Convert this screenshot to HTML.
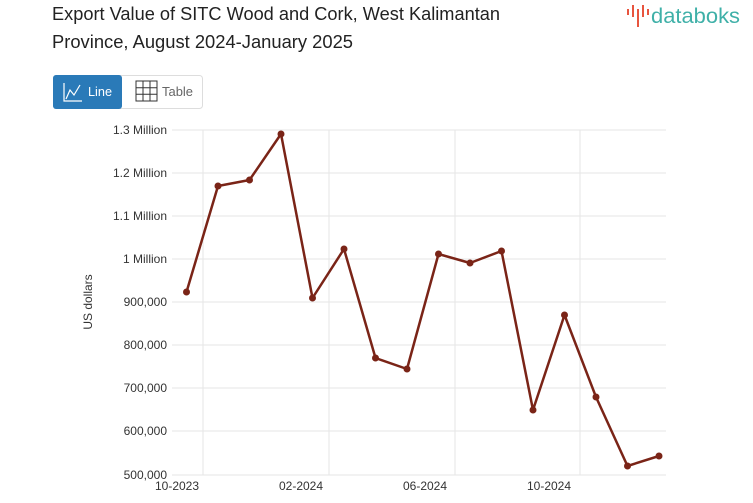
<!DOCTYPE html>
<html><head><meta charset="utf-8"><style>
body{margin:0;background:#fff;font-family:"Liberation Sans",sans-serif;}
</style></head><body>
<svg width="753" height="498" xmlns="http://www.w3.org/2000/svg" font-family="Liberation Sans, sans-serif">
<text x="52" y="20" font-size="18" fill="#222" textLength="448" lengthAdjust="spacingAndGlyphs">Export Value of SITC Wood and Cork, West Kalimantan</text>
<text x="52" y="48" font-size="18" fill="#222" textLength="301" lengthAdjust="spacingAndGlyphs">Province, August 2024-January 2025</text>
<g fill="#e8553f"><rect x="627" y="9" width="2" height="6"/><rect x="632" y="5" width="2" height="12"/><rect x="637" y="9" width="2" height="18"/><rect x="642" y="5" width="2" height="12"/><rect x="647" y="9" width="2" height="6"/></g>
<text x="651" y="23" font-size="21" fill="#3fb0a8" textLength="89" lengthAdjust="spacingAndGlyphs">databoks</text>
<rect x="53.5" y="75.5" width="149" height="33" rx="3" fill="#fff" stroke="#ddd"/>
<rect x="53" y="75" width="69" height="34" rx="3" fill="#2a7ab8"/>
<polyline points="64,83 64,101 82,101" fill="none" stroke="#fff" stroke-width="1.2"/>
<polyline points="66,99 70,90 74,95 80,85" fill="none" stroke="#fff" stroke-width="1.2"/>
<text x="88" y="96" font-size="13" fill="#fff" textLength="24" lengthAdjust="spacingAndGlyphs">Line</text>
<g stroke="#333" fill="none" stroke-width="1"><rect x="136" y="81" width="21" height="20"/><line x1="136" y1="87.7" x2="157" y2="87.7"/><line x1="136" y1="94.3" x2="157" y2="94.3"/><line x1="143" y1="81" x2="143" y2="101"/><line x1="150" y1="81" x2="150" y2="101"/></g>
<text x="162" y="96" font-size="13" fill="#666" textLength="31" lengthAdjust="spacingAndGlyphs">Table</text>
<g stroke="#e6e6e6" stroke-width="1">
<line x1="172" y1="130" x2="666" y2="130"/><line x1="172" y1="173" x2="666" y2="173"/><line x1="172" y1="216" x2="666" y2="216"/><line x1="172" y1="259" x2="666" y2="259"/><line x1="172" y1="302" x2="666" y2="302"/><line x1="172" y1="345" x2="666" y2="345"/><line x1="172" y1="388" x2="666" y2="388"/><line x1="172" y1="431" x2="666" y2="431"/><line x1="172" y1="475" x2="666" y2="475"/>
<line x1="203" y1="130" x2="203" y2="475"/><line x1="329" y1="130" x2="329" y2="475"/><line x1="455" y1="130" x2="455" y2="475"/><line x1="580" y1="130" x2="580" y2="475"/>
</g>
<g font-size="12" fill="#333" text-anchor="end">
<text x="167" y="134">1.3 Million</text><text x="167" y="177">1.2 Million</text><text x="167" y="220">1.1 Million</text><text x="167" y="263">1 Million</text><text x="167" y="306">900,000</text><text x="167" y="349">800,000</text><text x="167" y="392">700,000</text><text x="167" y="435">600,000</text><text x="167" y="479">500,000</text>
</g>
<g font-size="12" fill="#333" text-anchor="middle">
<text x="177" y="490">10-2023</text><text x="301" y="490">02-2024</text><text x="425" y="490">06-2024</text><text x="549" y="490">10-2024</text>
</g>
<text transform="translate(92,302) rotate(-90)" font-size="12" fill="#333" text-anchor="middle">US dollars</text>
<polyline fill="none" stroke="#7a2417" stroke-width="2.5" stroke-linejoin="round" points="186.5,292 218,186 249.5,180 281,134 312.5,298 344,249 375.5,358 407,369 438.5,254 470,263 501.5,251 533,410 564.5,315 596,397 627.5,466 659,456"/>
<g fill="#7a2417">
<circle cx="186.5" cy="292" r="3.5"/><circle cx="218" cy="186" r="3.5"/><circle cx="249.5" cy="180" r="3.5"/><circle cx="281" cy="134" r="3.5"/><circle cx="312.5" cy="298" r="3.5"/><circle cx="344" cy="249" r="3.5"/><circle cx="375.5" cy="358" r="3.5"/><circle cx="407" cy="369" r="3.5"/><circle cx="438.5" cy="254" r="3.5"/><circle cx="470" cy="263" r="3.5"/><circle cx="501.5" cy="251" r="3.5"/><circle cx="533" cy="410" r="3.5"/><circle cx="564.5" cy="315" r="3.5"/><circle cx="596" cy="397" r="3.5"/><circle cx="627.5" cy="466" r="3.5"/><circle cx="659" cy="456" r="3.5"/>
</g>
</svg>
</body></html>
